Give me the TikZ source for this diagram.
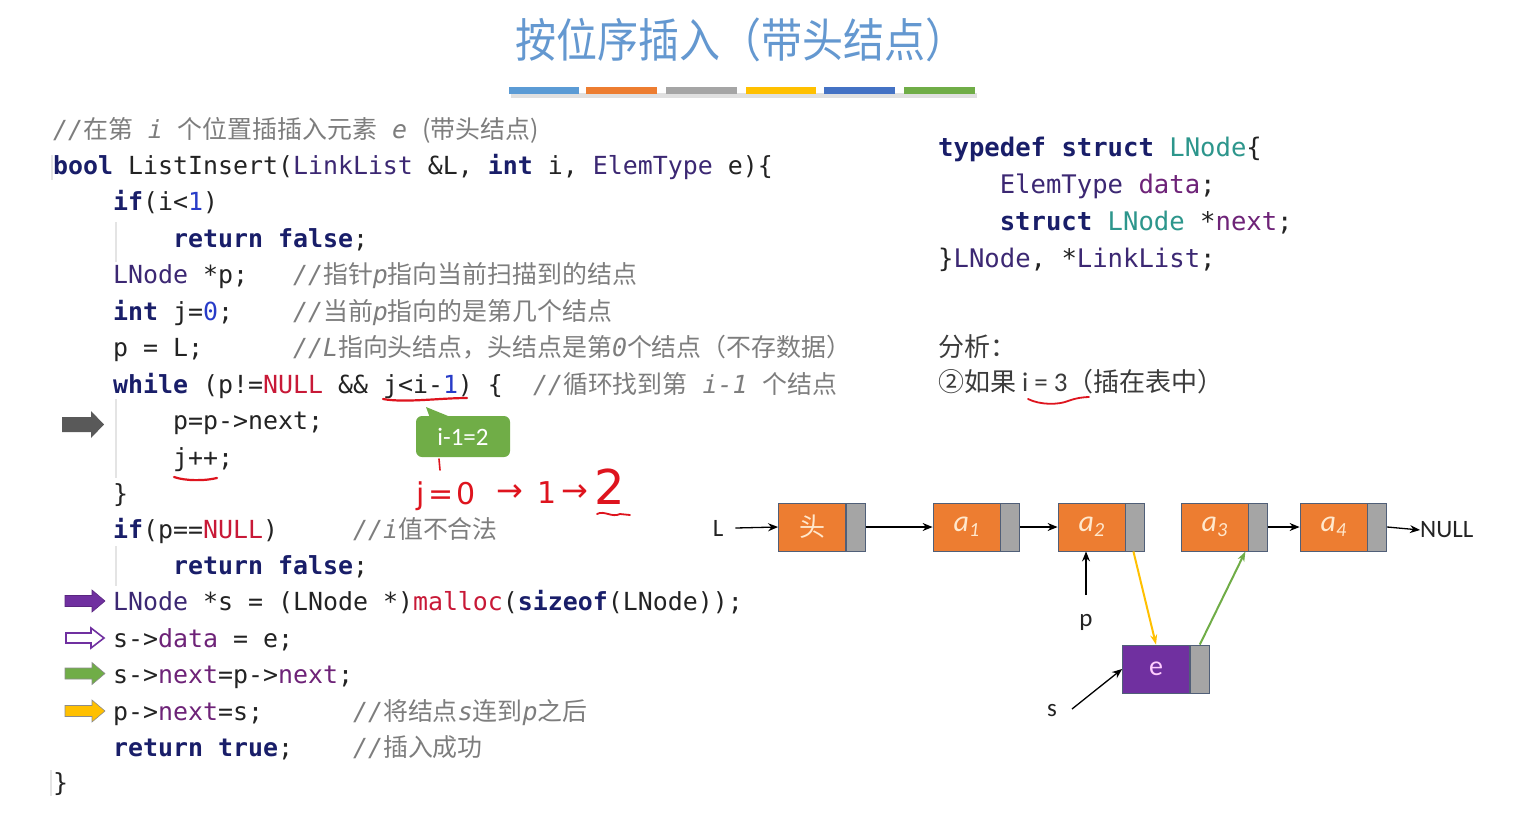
\documentclass[tikz,border=0pt]{standalone}
\usepackage{fontspec}
\usetikzlibrary{arrows.meta}
\newfontfamily\codefont{DejaVu Sans Mono}
\newfontfamily\cjk{Noto Sans CJK SC}
\newfontfamily\calfont{Carlito}
\newfontfamily\handfont{DejaVu Sans}
\definecolor{titlec}{RGB}{100,152,208}
\definecolor{bara}{RGB}{91,155,213}
\definecolor{barb}{RGB}{237,125,49}
\definecolor{barc}{RGB}{165,165,165}
\definecolor{bard}{RGB}{255,192,0}
\definecolor{bare}{RGB}{68,114,196}
\definecolor{barf}{RGB}{112,173,71}
\definecolor{codec}{RGB}{35,35,35}
\definecolor{kwc}{RGB}{25,30,105}
\definecolor{tyc}{RGB}{60,40,115}
\definecolor{nmc}{RGB}{40,60,200}
\definecolor{rdc}{RGB}{200,25,55}
\definecolor{fdc}{RGB}{110,35,120}
\definecolor{tlc}{RGB}{45,150,140}
\definecolor{cmc}{RGB}{125,125,125}
\definecolor{guidec}{RGB}{228,228,228}
\definecolor{orangec}{RGB}{237,125,49}
\definecolor{greyc}{RGB}{165,165,165}
\definecolor{bordc}{RGB}{80,95,120}
\definecolor{purplec}{RGB}{112,48,160}
\definecolor{datatxt}{RGB}{255,232,205}
\definecolor{etxt}{RGB}{255,205,255}
\definecolor{penred}{RGB}{222,20,30}
\definecolor{darkarr}{RGB}{89,89,89}
\definecolor{anac}{RGB}{60,60,60}
\newcommand\czh[1]{{\cjk\upshape #1}}
\newcommand\ckw[1]{{\color{kwc}\bfseries #1}}
\newcommand\cty[1]{{\color{tyc}#1}}
\newcommand\cnum[1]{{\color{nmc}#1}}
\newcommand\cred[1]{{\color{rdc}#1}}
\newcommand\cfld[1]{{\color{fdc}#1}}
\newcommand\cteal[1]{{\color{tlc}#1}}
\newcommand\barrow[5]{% x0 x1 yc h1 h2 ; head length 13
  (#1,{#3-#4}) -- ({#2-13},{#3-#4}) -- ({#2-13},{#3-#5}) -- (#2,#3) -- ({#2-13},{#3+#5}) -- ({#2-13},{#3+#4}) -- (#1,{#3+#4}) -- cycle}
\begin{document}
\begin{tikzpicture}[x=1pt,y=-1pt,
  code/.style={anchor=base west, inner sep=0pt, text=codec, font=\codefont\fontsize{24.9}{30}\selectfont},
  cmt/.style={anchor=base west, inner sep=0pt, text=cmc, font=\codefont\itshape\fontsize{24.9}{30}\selectfont},
  scode/.style={anchor=base west, inner sep=0pt, text=codec, font=\codefont\fontsize{25.6}{30}\selectfont},
  datab/.style={draw=bordc, line width=0.8pt, fill=orangec, minimum width=67, minimum height=48, inner sep=0pt, text=datatxt},
  ptrb/.style={draw=bordc, line width=0.8pt, fill=greyc, minimum width=19, minimum height=48, inner sep=0pt, anchor=west},
  lbl/.style={inner sep=0pt, text=codec, font=\calfont\fontsize{25}{25}\selectfont},
  ptr/.style={-{Stealth[length=10pt,width=8pt]}, line width=1.3pt, black},
  redpen/.style={penred, line width=2.2pt, line cap=round},
  hand/.style={inner sep=0pt, text=penred, font=\handfont\fontsize{30}{30}\selectfont},
  guide/.style={guidec, line width=1.2pt}
]
\useasboundingbox (0,0) rectangle (1525,825);
\fill[white] (0,0) rectangle (1525,825);

% title
\node[text=titlec, font=\cjk\fontsize{41}{41}\selectfont, inner sep=0pt] (title) at (740.5,40) {\scalebox{1}[1.13]{按位序插入（带头结点）}};
% colour bars
\fill[black!12] (511,93) rectangle (977,98);
\fill[bara] (509,86.5) rectangle (579,93.5);
\fill[barb] (586,86.5) rectangle (657,93.5);
\fill[barc] (666,86.5) rectangle (737,93.5);
\fill[bard] (746,86.5) rectangle (816,93.5);
\fill[bare] (824,86.5) rectangle (895,93.5);
\fill[barf] (904,86.5) rectangle (975,93.5);

% indentation guides
\draw[guide] (52,155) -- (52,180);
\draw[guide] (116,222) -- (116,262);
\draw[guide] (116,399) -- (116,478);
\draw[guide] (116,546) -- (116,586);
\draw[guide] (51,770) -- (51,796);

% code
\node[cmt] (c0) at (53,138) {//\czh{在第} i \czh{个位置插插入元素} e \czh{(带头结点)}};
\node[code] (l1) at (53,174) {\ckw{bool} ListInsert(\cty{LinkList} \&L, \ckw{int} i, \cty{ElemType} e)\{};
\node[code] (l2) at (113,210.5) {\ckw{if}(i<\cnum{1})};
\node[code] (l3) at (173,247) {\ckw{return} \ckw{false};};
\node[code] (l4) at (113,283.5) {\cty{LNode} *p;};
\node[cmt] (c4) at (293,283.5) {//\czh{指针}p\czh{指向当前扫描到的结点}};
\node[code] (l5) at (113,320) {\ckw{int} j=\cnum{0};};
\node[cmt] (c5) at (293,320) {//\czh{当前}p\czh{指向的是第几个结点}};
\node[code] (l6) at (113,356.5) {p = L;};
\node[cmt] (c6) at (293,356.5) {//L\czh{指向头结点，头结点是第}0\czh{个结点（不存数据）}};
\node[code] (l7) at (113,393) {\ckw{while} (p!=\cred{NULL} \&\& j<i-\cnum{1}) \{};
\node[cmt] (c7) at (533,393) {//\czh{循环找到第} i-1 \czh{个结点}};
\node[code] (l8) at (173,429.5) {p=p->next;};
\node[code] (l9) at (173,466) {j++;};
\node[code] (l10) at (113,502) {\}};
\node[code] (l11) at (113,538) {\ckw{if}(p==\cred{NULL})};
\node[cmt] (c11) at (353,538) {//i\czh{值不合法}};
\node[code] (l12) at (173,574) {\ckw{return} \ckw{false};};
\node[code] (l13) at (113,610.5) {\cty{LNode} *s = (LNode *)\cred{malloc}(\ckw{sizeof}(LNode));};
\node[code] (l14) at (113,647) {s->\cfld{data} = e;};
\node[code] (l15) at (113,683) {s->\cfld{next}=p->\cfld{next};};
\node[code] (l16) at (113,720) {p->\cfld{next}=s;};
\node[cmt] (c16) at (353,720) {//\czh{将结点}s\czh{连到}p\czh{之后}};
\node[code] (l17) at (113,756) {\ckw{return} \ckw{true};};
\node[cmt] (c17) at (353,756) {//\czh{插入成功}};
\node[code] (l18) at (53,791) {\}};

% left block arrows
\fill[darkarr] \barrow{62}{104}{424.5}{7.5}{13.5};
\filldraw[fill=purplec, draw=purplec!80!black, line width=0.6pt] \barrow{65}{105}{601}{5.5}{11};
\filldraw[fill=white, draw=purplec, line width=1.6pt] \barrow{66}{104}{638}{5}{10};
\filldraw[fill=barf, draw=black!45, line width=0.6pt] \barrow{65}{105}{673.5}{5.5}{11};
\filldraw[fill=bard, draw=black!45, line width=0.6pt] \barrow{65}{105}{711}{5.5}{11};

% struct definition
\node[scode] (s1) at (938,156) {\ckw{typedef} \ckw{struct} \cteal{LNode}\{};
\node[scode] (s2) at (999.6,193) {\cty{ElemType} \cfld{data};};
\node[scode] (s3) at (999.6,230) {\ckw{struct} \cteal{LNode} *\cfld{next};};
\node[scode] (s4) at (938,267) {\}\cty{LNode}, *\cty{LinkList};};

% analysis
\node[anchor=west, inner sep=0pt, text=anac, font=\cjk\fontsize{26}{26}\selectfont] (an1) at (938,347) {分析：};
\node[anchor=west, inner sep=0pt, text=anac, font=\cjk\fontsize{26}{26}\selectfont] (an2) at (938,382) {②如果 {\calfont\fontsize{27}{27}\selectfont i = 3}（插在表中）};
\draw[redpen, line width=1.8pt] (1028,399) .. controls (1040,405) and (1058,405) .. (1068,401) .. controls (1076,398) and (1084,397) .. (1089,397);

% callout and handwriting
\draw[redpen] (383,399) .. controls (405,403) and (440,398) .. (467,398);
\draw[redpen] (174,477) .. controls (185,481) and (205,481) .. (217,478);
\fill[barf] (430,418) -- (426,407) -- (453,418) -- cycle;
\node[fill=barf, rounded corners=6pt, minimum width=94, minimum height=41, inner sep=0pt, text=white, font=\calfont\fontsize{25}{25}\selectfont] (co) at (463,436.5) {i-1=2};
\draw[redpen, line width=1.6pt] (439,459) -- (440,470);
\node[hand, anchor=base west] (hj) at (416,504) {j\hspace{4pt}=\hspace{3pt}0};
\node[hand, font=\handfont\fontsize{32}{32}\selectfont] (har1) at (510,493) {→};
\node[hand] (h1) at (547,493) {1};
\node[hand, font=\handfont\fontsize{32}{32}\selectfont] (har2) at (575,493) {→};
\node[hand, font=\handfont\fontsize{48}{48}\selectfont] (h2) at (610,487) {2};
\draw[redpen, line width=1.8pt] (597,514) .. controls (604,510) and (612,518) .. (620,514) -- (630,515);

% linked list
\node[datab, font=\cjk\fontsize{26}{26}\selectfont] (h) at (812,527) {头};
\node[ptrb] (hp) at (h.east) {};
\node[datab, font=\calfont\itshape\fontsize{30}{30}\selectfont] (a1) at (966.5,527) {a\raisebox{-5pt}{\fontsize{20}{20}\selectfont 1}};
\node[ptrb] (a1p) at (a1.east) {};
\node[datab, font=\calfont\itshape\fontsize{30}{30}\selectfont] (a2) at (1091.5,527) {a\raisebox{-5pt}{\fontsize{20}{20}\selectfont 2}};
\node[ptrb] (a2p) at (a2.east) {};
\node[datab, font=\calfont\itshape\fontsize{30}{30}\selectfont] (a3) at (1214.5,527) {a\raisebox{-5pt}{\fontsize{20}{20}\selectfont 3}};
\node[ptrb] (a3p) at (a3.east) {};
\node[datab, font=\calfont\itshape\fontsize{30}{30}\selectfont] (a4) at (1333.5,527) {a\raisebox{-5pt}{\fontsize{20}{20}\selectfont 4}};
\node[ptrb] (a4p) at (a4.east) {};
\node[datab, fill=purplec, text=etxt, font=\calfont\fontsize{28}{28}\selectfont] (e) at (1156,669) {e};
\node[ptrb] (ep) at (e.east) {};

\node[lbl] (L) at (718,528) {L};
\node[lbl, anchor=west] (null) at (1420,530) {NULL};
\node[lbl] (p) at (1086,622) {p};
\node[lbl] (s) at (1052,711) {s};
\coordinate (pt) at (1086,595);
\coordinate (st) at (1072,709);

\draw[ptr] ([xshift=12pt]L.east) -- (h.west);
\draw[ptr] (hp.east) -- (a1.west);
\draw[ptr] (a1p.east) -- (a2.west);
\draw[ptr] (a3p.east) -- (a4.west);
\draw[ptr] (a4p.east) -- (null.west);
\draw[ptr] (pt) -- (pt |- a2.south);
\draw[ptr] (st) -- (e.west);
\draw[bard, line width=2pt, -{Stealth[length=10pt,width=7pt]}] ([xshift=8pt]a2p.south west) -- (e.north);
\draw[barf, line width=2pt, -{Stealth[length=10pt,width=7pt]}] (ep.north) -- ([xshift=-3pt]a3p.south west);
\end{tikzpicture}
\end{document}
